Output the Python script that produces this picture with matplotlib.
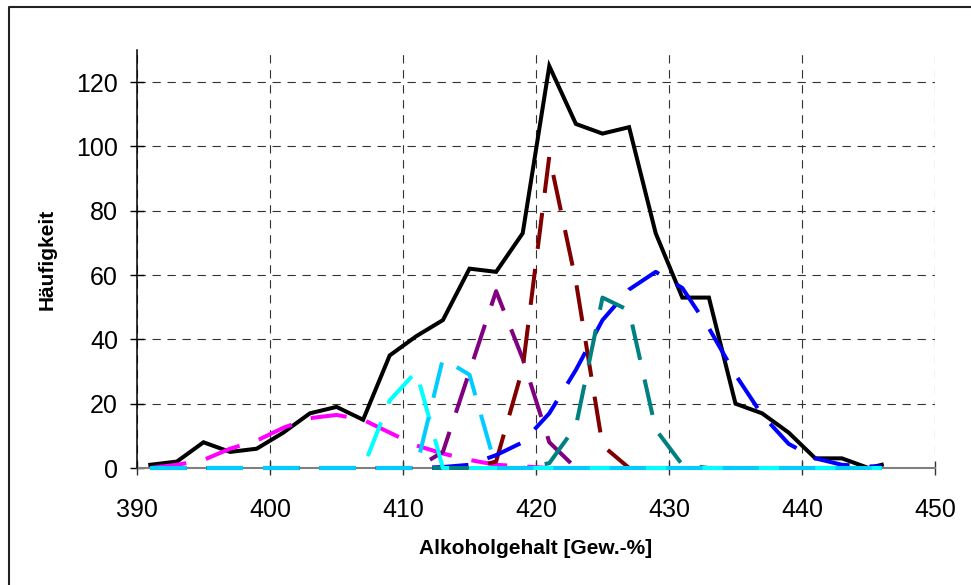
import matplotlib
matplotlib.use("Agg")
import matplotlib.pyplot as plt
from matplotlib.lines import Line2D

plt.rcParams["font.family"] = ["Liberation Sans", "DejaVu Sans"]

# x positions (class midpoints, alcohol content)
alk = [391, 393, 395, 397, 399, 401, 403, 405, 407, 409, 411, 413, 415, 417,
       419, 421, 423, 425, 427, 429, 431, 433, 435, 437, 439, 441, 443, 445, 446]

# total frequency
gesamt = [1, 2, 8, 5, 6, 11, 17, 19, 15, 35, 41, 46, 62, 61,
          73, 125, 107, 104, 106, 73, 53, 53, 20, 17, 11, 3, 3, 0, 1]

# component curves
magenta = [0, 1, 2.5, 6, 8.5, 12.5, 15.5, 16.5, 15, 11, 7, 4.5, 2.5, 1,
           0.5, 0, 0, 0, 0, 0, 0, 0, 0, 0, 0, 0, 0, 0, 0]
cyan = [0, 0, 0, 0, 0, 0, 0, 0, 0, 21, 30, 0, 0, 0,
        0, 0, 0, 0, 0, 0, 0, 0, 0, 0, 0, 0, 0, 0, 0]
purple = [0, 0, 0, 0, 0, 0, 0, 0, 0, 0, 0, 5, 30, 55,
          34, 8, 0, 0, 0, 0, 0, 0, 0, 0, 0, 0, 0, 0, 0]
darkred = [0, 0, 0, 0, 0, 0, 0, 0, 0, 0, 0, 0, 0, 2,
           31, 97, 58, 7, 0, 0, 0, 0, 0, 0, 0, 0, 0, 0, 0]
blue = [0, 0, 0, 0, 0, 0, 0, 0, 0, 0, 0, 0.3, 1, 4,
        8, 17, 30.5, 46, 55.5, 61, 56, 43.5, 29, 16.5, 7.5, 3, 1, 0.5, 0.5]
teal = [0, 0, 0, 0, 0, 0, 0, 0, 0, 0, 0, 0, 0, 0,
        0, 1.5, 13, 53, 49, 12, 1, 0, 0, 0, 0, 0, 0, 0, 0]
skyblue = [0, 0, 0, 0, 0, 0, 0, 0, 0, 0, 0, 34, 29, 0,
           0, 0, 0, 0, 0, 0, 0, 0, 0, 0, 0, 0, 0, 0, 0]

components = [
    (magenta, "#FF00FF"),
    (purple, "#800080"),
    (darkred, "#800000"),
    (blue, "#0000FF"),
    (teal, "#008080"),
    (cyan, "#00FFFF"),
    (skyblue, "#00CCFF"),
]

W, H = 971, 585
fig = plt.figure(figsize=(W / 100, H / 100), dpi=100)
ax = fig.add_axes([137 / W, 1 - 468 / H, (935 - 137) / W, (468 - 50) / H])

ax.plot(alk, gesamt, color="black", lw=2.9, solid_joinstyle="miter",
        clip_on=False, zorder=2)
for vals, col in components:
    ax.plot(alk[:len(vals)], vals, color=col, lw=2.9, ls=(0, (9, 5)),
            clip_on=False, zorder=3)

ax.set_xlim(390, 450)
ax.set_ylim(0, 130)
ax.set_xticks(range(390, 451, 10))
ax.set_yticks(range(0, 121, 20))

ax.grid(True, color="#333333", lw=0.8, ls=(0, (7.5, 6)))
ax.set_axisbelow(True)

for s in ("top", "right"):
    ax.spines[s].set_visible(False)
ax.spines["left"].set_color("black")
ax.spines["left"].set_linewidth(1.1)
ax.spines["bottom"].set_color("#808080")
ax.spines["bottom"].set_linewidth(1.5)
ax.spines["left"].set_zorder(4)
ax.spines["bottom"].set_zorder(1)

ax.tick_params(axis="x", direction="inout", length=9.5, width=1, color="#333333",
               labelsize=18, pad=17)
ax.tick_params(axis="y", direction="inout", length=9.5, width=1, color="black",
               labelsize=18, pad=9)

ax.text(0.5, -0.193, "Alkoholgehalt [Gew.-%]", transform=ax.transAxes,
        ha="center", va="center", fontsize=15, fontweight="bold")
ax.text(-0.113, 0.5, "Häufigkeit", transform=ax.transAxes, rotation=90,
        ha="center", va="center", fontsize=15, fontweight="bold")

# outer chart border
fig.add_artist(Line2D([8.5 / W, 8.5 / W, 1.0], [0.0, 1 - 6.5 / H, 1 - 6.5 / H],
                      color="#222222", lw=1.5, transform=fig.transFigure))

fig.savefig("out.png", dpi=100)
